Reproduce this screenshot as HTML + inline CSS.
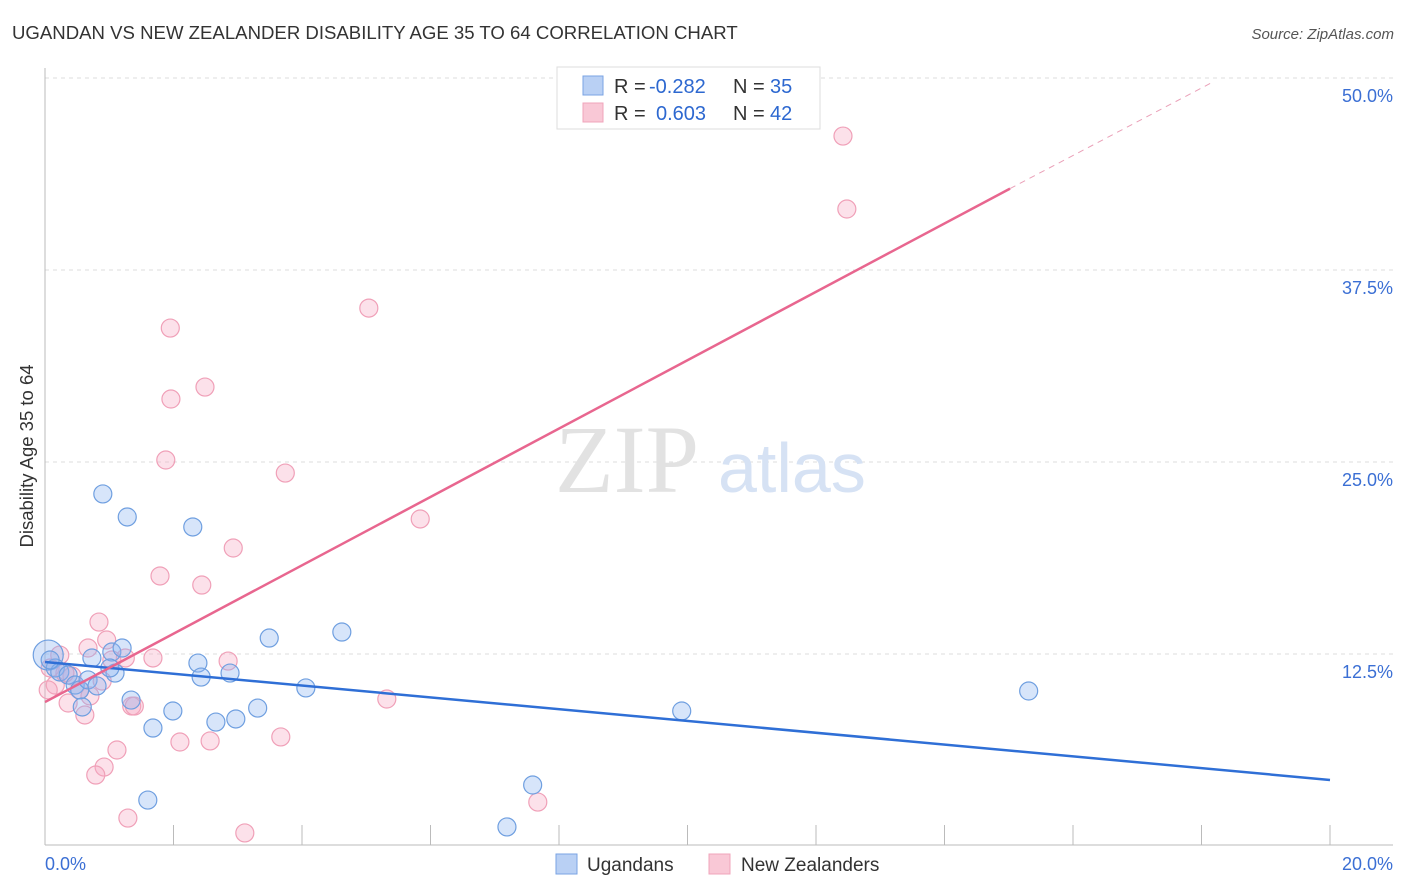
<!DOCTYPE html>
<html><head><meta charset="utf-8"><style>
body{margin:0;background:#fff;font-family:"Liberation Sans",sans-serif}
</style></head><body>
<svg id="c" width="1406" height="892" xmlns="http://www.w3.org/2000/svg" style="display:block">
<text x="12" y="39" font-size="18.6" fill="#333">UGANDAN VS NEW ZEALANDER DISABILITY AGE 35 TO 64 CORRELATION CHART</text>
<text x="1394" y="39" font-size="15" fill="#555" font-style="italic" text-anchor="end">Source: ZipAtlas.com</text>
<text x="33" y="456" font-size="18.5" fill="#333" text-anchor="middle" transform="rotate(-90 33 456)">Disability Age 35 to 64</text>
<g id="grid"></g>
<text x="555" y="492" font-size="96" fill="#e2e2e2" font-family="Liberation Serif">ZIP</text>
<text x="718" y="492" font-size="70" fill="#d6e2f4">atlas</text>
<g id="pts"></g>
<g id="lines"></g>
<g>
<rect x="557" y="67" width="263" height="62" fill="#fff" stroke="#ddd"/>
<rect x="583" y="76" width="20" height="19" fill="#b9d0f4" stroke="#7aa3e3"/>
<rect x="583" y="103" width="20" height="19" fill="#f9c8d6" stroke="#f0a4bb"/>
<text x="614" y="93" font-size="20" fill="#333">R =</text>
<text x="649" y="93" font-size="20" fill="#2d68d0">-0.282</text>
<text x="733" y="93" font-size="20" fill="#333">N =</text>
<text x="770" y="93" font-size="20" fill="#2d68d0">35</text>
<text x="614" y="120" font-size="20" fill="#333">R =</text>
<text x="656" y="120" font-size="20" fill="#2d68d0">0.603</text>
<text x="733" y="120" font-size="20" fill="#333">N =</text>
<text x="770" y="120" font-size="20" fill="#2d68d0">42</text>
</g>
<g>
<rect x="556" y="854" width="21" height="20" fill="#b9d0f4" stroke="#7aa3e3"/>
<text x="587" y="871" font-size="19" fill="#333">Ugandans</text>
<rect x="709" y="854" width="21" height="20" fill="#f9c8d6" stroke="#f0a4bb"/>
<text x="741" y="871" font-size="19" fill="#333">New Zealanders</text>
</g>
</svg>
<script>
const xTicks=[0,20];
const yTicks=[12.5,25,37.5,50];
const blueX=[0.05,0.16,0.23,0.36,0.47,0.54,0.67,0.73,0.81,0.90,0.58,1.04,1.09,1.20,1.28,1.34,1.68,1.60,1.99,2.30,2.38,2.43,2.66,2.88,2.97,3.31,3.49,4.06,4.62,7.19,7.59,9.91,15.31,1.01,0.08];
const blueY=[12.43,11.59,11.33,11.13,10.48,10.16,10.81,12.24,10.42,22.92,9.05,12.63,11.26,12.89,21.42,9.50,7.68,2.99,8.79,20.77,11.91,11.00,8.07,11.26,8.27,8.98,13.54,10.29,13.93,1.24,3.97,8.79,10.09,11.59,12.11];
const pinkX=[12.42,12.48,1.95,5.04,2.49,1.96,1.88,3.74,5.84,2.93,1.79,2.44,0.84,0.67,0.96,1.25,1.68,2.85,0.23,0.08,0.16,0.42,0.54,0.70,0.36,0.62,1.35,1.39,5.32,3.67,2.57,2.10,1.12,0.92,0.79,7.67,1.29,3.11,1.04,0.31,0.05,0.89];
const pinkY=[46.22,41.47,33.72,35.02,29.88,29.10,25.13,24.28,21.29,19.40,17.58,16.99,14.58,12.89,13.41,12.24,12.24,12.04,12.43,11.59,10.48,11.07,10.16,9.77,9.31,8.53,9.11,9.11,9.57,7.10,6.84,6.77,6.25,5.14,4.62,2.86,1.82,0.85,12.11,11.26,10.16,10.74];
const blueLine=[[0,11.98],[20,4.30]];
const pinkLine=[[0,9.37],[15.02,42.8]];
const pinkDash=[[15.02,42.8],[18.16,49.7]];
const X=v=>45+v/20*1285, Y=v=>846-v/12.5*192;
const NS="http://www.w3.org/2000/svg";
function mk(t,a,p){const e=document.createElementNS(NS,t);for(const k in a)e.setAttribute(k,a[k]);p.appendChild(e);return e;}
const g=document.getElementById('grid');
yTicks.forEach(v=>{const l=mk('line',{x1:45,x2:1393,y1:Y(v),y2:Y(v),stroke:'#ddd','stroke-dasharray':'4 4'},g);


const t=mk('text',{x:1393,y:Y(v)+24,'font-size':18,fill:'#3b6fd4','text-anchor':'end'},g);t.textContent=v.toFixed(1)+'%';

});
const ax=mk('line',{x1:45,x2:45,y1:68,y2:845,stroke:'#bbb'},g);


const bx=mk('line',{x1:45,x2:1393,y1:845,y2:845,stroke:'#bbb'},g);


for(let k=0;k<=10;k++){const t=mk('line',{x1:X(k*2),x2:X(k*2),y1:825,y2:845,stroke:'#bbb'},g);

}
xTicks.forEach((v,i)=>{const t=mk('text',{x:i?1393:45,y:870,'font-size':18,fill:'#3b6fd4','text-anchor':i?'end':'start'},g);t.textContent=v.toFixed(1)+'%';

});
const p=document.getElementById('pts');
pinkX.forEach((v,i)=>{const c=mk('circle',{cx:X(v),cy:Y(pinkY[i]),r:9,fill:'rgba(246,170,195,0.35)',stroke:'#f0a0b8','stroke-width':1.2},p);

});
blueX.forEach((v,i)=>{const c=mk('circle',{cx:X(v),cy:Y(blueY[i]),r:i==0?15:9,fill:'rgba(140,180,240,0.35)',stroke:'#6f9fe0','stroke-width':1.2},p);

});
const L=document.getElementById('lines');
function ln(a,col,w,d,n){const e=mk('line',{x1:X(a[0][0]),y1:Y(a[0][1]),x2:X(a[1][0]),y2:Y(a[1][1]),stroke:col,'stroke-width':w},L);if(d)e.setAttribute('stroke-dasharray',d);

}
ln(blueLine,'#2f6fd6',2.5,null,'ugandan-trendline');
ln(pinkLine,'#e8668f',2.5,null,'new-zealander-trendline');
ln(pinkDash,'#eaa0b8',1,'6 5','new-zealander-trend-extension');
</script>
</body></html>
